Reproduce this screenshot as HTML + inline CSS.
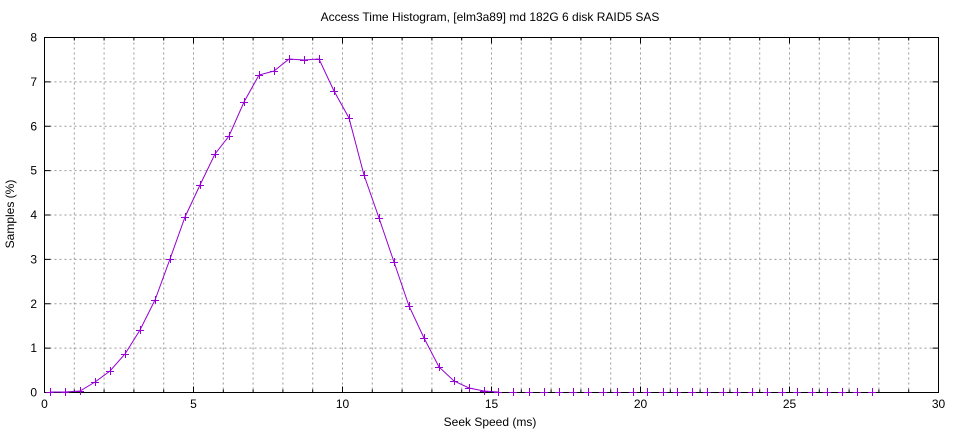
<!DOCTYPE html>
<html><head><meta charset="utf-8"><style>
body{margin:0;background:#fff}
svg text{font-family:"Liberation Sans","DejaVu Sans",sans-serif;font-size:12px;fill:#000}
</style></head><body>
<svg width="960" height="432" viewBox="0 0 960 432" xmlns="http://www.w3.org/2000/svg">
<g id="grid" stroke="#999" stroke-width="1" stroke-dasharray="2,3"></g>
<rect x="44.5" y="37.5" width="894" height="355" fill="none" stroke="#000"/>
<g id="ticks" stroke="#000"></g>
<g id="labels"></g>
<text x="490" y="21" text-anchor="middle">Access Time Histogram, [elm3a89] md 182G 6 disk RAID5 SAS</text>
<text x="490" y="426" text-anchor="middle">Seek Speed (ms)</text>
<text transform="translate(14,214) rotate(-90)" text-anchor="middle">Samples (%)</text>
<polyline id="line" fill="none" stroke="#9400d3" stroke-width="1"/>
<g id="marks" stroke="#9400d3" stroke-width="1"></g>
</svg>
<script>
var ns="http://www.w3.org/2000/svg";
function el(p,t,a,txt){var e=document.createElementNS(ns,t);for(var k in a)e.setAttribute(k,a[k]);if(txt!==undefined)e.textContent=txt;document.getElementById(p).appendChild(e);}
var X0=44.5,X1=938.5,Y0=392.5,Y1=37.5;
for(var i=1;i<30;i++){var x=X0+(X1-X0)*i/30;el("grid","line",{x1:x,y1:Y1,x2:x,y2:Y0});}
for(var j=1;j<8;j++){var y=Y0-(Y0-Y1)*j/8;el("grid","line",{x1:X0,y1:y,x2:X1,y2:y});}
for(var i=0;i<=30;i++){var x=X0+(X1-X0)*i/30;var L=i%5==0?6:3;el("ticks","line",{x1:x,y1:Y0,x2:x,y2:Y0-L});el("ticks","line",{x1:x,y1:Y1,x2:x,y2:Y1+L});
if(i%5==0)el("labels","text",{x:x,y:408,"text-anchor":"middle"},String(i));}
for(var j=0;j<=8;j++){var y=Y0-(Y0-Y1)*j/8;el("ticks","line",{x1:X0,y1:y,x2:X0+6,y2:y});el("ticks","line",{x1:X1,y1:y,x2:X1-6,y2:y});
el("labels","text",{x:37,y:y+4,"text-anchor":"end"},String(j));}
var pts=[[50,392],[65,392],[80,391],[95,382],[110,371],[125,354],[140,330],[155,300],[170,259],[185,217],[200,185],[215,154],[229,136],[244,102],[259,75],[274,71],[289,59],[304,60],[319,59],[334,91],[349,118],[364,175],[379,218],[394,262],[409,306],[424,338],[439,367],[454,381],[469,388],[484,391],[498,392]];
var tail=[513,529,544,559,573,588,603,617,633,647,663,677,692,707,723,737,752,767,782,797,812,827,842,857,872];
document.getElementById("line").setAttribute("points",pts.map(function(p){return p.join(",")}).join(" "));
pts.concat(tail.map(function(x){return [x,392]})).forEach(function(p){
el("marks","line",{x1:p[0]-4,y1:p[1]+.5,x2:p[0]+4,y2:p[1]+.5});
el("marks","line",{x1:p[0]+.5,y1:p[1]-4,x2:p[0]+.5,y2:p[1]+4});});
</script>
</body></html>
